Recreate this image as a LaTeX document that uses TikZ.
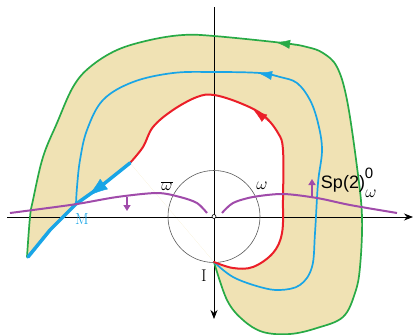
\documentclass[tikz,border=0pt]{standalone}
\usepackage{fontspec}
\setsansfont{Liberation Sans}
\usetikzlibrary{arrows.meta}
\definecolor{hodo}{RGB}{40,170,70}
\definecolor{sky}{RGB}{25,165,230}
\definecolor{rot}{RGB}{235,30,40}
\definecolor{lila}{RGB}{160,75,170}
\definecolor{sand}{RGB}{240,226,180}
\tikzset{
  curve/.style={line width=1.7pt, line join=round, line cap=round},
  tip/.style={-{Latex[length=14pt,width=9pt]}, shorten >=-2pt}
}
\begin{document}
\begin{tikzpicture}[x=1pt, y=-1pt]
    \useasboundingbox (0,0) rectangle (416,335);
    \coordinate (I) at (214,262);
    \coordinate (M) at (76,204);
    % shaded band between the outer and inner curves
    \fill[sand] plot[smooth, tension=0.6] coordinates {(214,262) (227,300) (243,320) (263,332) (290,334)
      (317,328) (343,317) (355,293) (360,267) (362,217) (357,167) (347,100) (337,67) (323,53) (307,47)
      (283,43) (214,36) (183,35) (150,40) (117,50) (90,67) (73,87) (57,123) (43,157) (33,200) (30,217) (27,257)}
      -- (50,230) -- (76,204) -- (100,187) -- (130,163)
      plot[smooth, tension=0.6] coordinates {(130,163) (143,147) (153,127) (173,110) (197,97) (214,95)
      (240,103) (263,115) (278,133) (283,150) (283,200) (282,233) (273,253) (253,267) (233,268) (214,262)}
      -- cycle;
    % axes and circle
    \draw[line width=0.8pt, -{Stealth[length=9pt,width=7pt]}] (7,217) -- (413,217);
    \draw[line width=0.8pt, -{Stealth[length=9pt,width=7pt]}] (214,7) -- (214,319);
    \draw[gray!70!black, line width=0.6pt] (214,216.5) circle (46);
    \draw[fill=white, line width=0.6pt] (214,216.5) circle (2);
    % outer curve
    \draw[curve, hodo] plot[smooth, tension=0.6] coordinates {(214,262) (227,300) (243,320) (263,332) (290,334)
      (317,328) (343,317) (355,293) (360,267) (362,217) (357,167) (347,100) (337,67) (323,53) (307,47)
      (283,43) (214,36) (183,35) (150,40) (117,50) (90,67) (73,87) (57,123) (43,157) (33,200) (30,217) (27,257)};
    \draw[hodo, tip] (296,45.2) -- (278,42.6);
    % middle curve
    \draw[curve, sky] plot[smooth, tension=0.6] coordinates {(214,262) (233,277) (260,287) (280,290) (300,285)
      (312,267) (315,233) (318,183) (322,150) (318,123) (310,100) (297,83) (280,77) (260,73) (214,72)
      (173,73) (133,82) (103,100) (87,130) (80,160) (77,187) (76,204)};
    \draw[sky, tip] (280,77) -- (260,73.3);
    % inner curve
    \draw[curve, rot, line width=2pt] plot[smooth, tension=0.6] coordinates {(214,262) (233,268) (253,267)
      (273,253) (282,233) (283,200) (283,150) (278,133) (263,115) (240,103) (214,95) (197,97) (173,110)
      (153,127) (143,147) (130,163)};
    \draw[rot, tip] (272,124) -- (255,111);
    % thick segment through M
    \draw[sky, line width=3.5pt, line cap=round] (130,163) -- (100,187) -- (76,204) -- (50,230) -- (28,257);
    \draw[sky, -{Latex[length=20pt,width=13pt]}] (112,178) -- (88,196);
    % boundary curves
    \draw[lila, line width=2pt] plot[smooth] coordinates {(10,213) (33,210) (77,204) (117,197) (157,193)
      (180,197) (197,203) (207,213)};
    \draw[lila, line width=2pt] plot[smooth] coordinates {(222,213) (233,203) (253,197) (283,194) (317,198)
      (350,205) (397,213)};
    \draw[lila, line width=1.5pt, -{Triangle[length=6pt,width=7pt]}] (127,197) -- (127,211);
    \draw[lila, line width=1.5pt, -{Triangle[length=6pt,width=7pt]}] (312,198) -- (312,179);
    % labels
    \node[font=\fontsize{17}{19}\selectfont] (wbar) at (167,186) {$\overline{\omega}$};
    \node[font=\fontsize{17}{19}\selectfont] (w) at (262,186) {$\omega$};
    \node[font=\sffamily\fontsize{18}{20}\selectfont] (sp) at (343,184) {Sp(2)};
    \node[font=\sffamily\fontsize{15}{17}\selectfont] (sp0) at (369,173) {0};
    \node[font=\fontsize{16}{18}\selectfont] (spw) at (371,194) {$\omega$};
    \node[sky, font=\fontsize{16}{18}\selectfont] (mlab) at (82,219) {M};
    \node[font=\fontsize{17}{19}\selectfont] (ilab) at (204,276) {I};
  \end{tikzpicture}
\end{document}
